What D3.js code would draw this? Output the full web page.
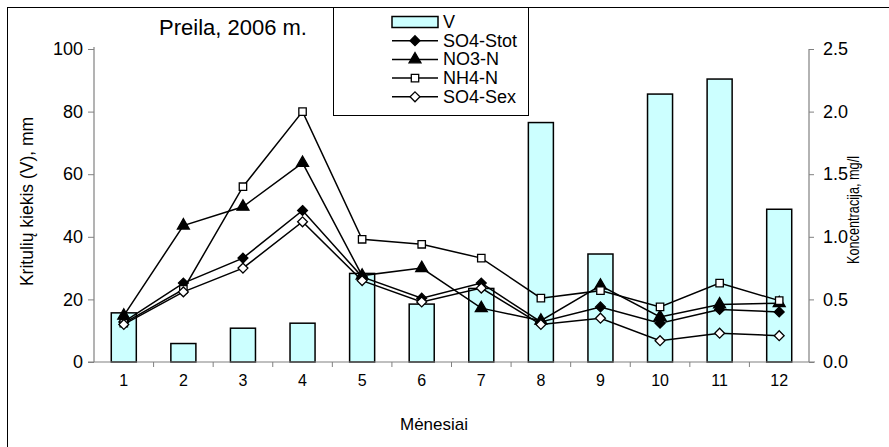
<!DOCTYPE html>
<html>
<head>
<meta charset="utf-8">
<script src="https://cdn.jsdelivr.net/npm/d3@7"></script>
<style>
  html, body { margin: 0; padding: 0; background: #fff; }
  svg { display: block; font-family: "Liberation Sans", Arial, sans-serif; }
</style>
</head>
<body>
<svg id="chart" width="889" height="447"></svg>
<script>
// Monthly precipitation (mm) and ion concentrations (mg/l), Preila 2006
const months = ["1", "2", "3", "4", "5", "6", "7", "8", "9", "10", "11", "12"];
const precipitation = [15.7, 5.9, 10.8, 12.4, 28.3, 18.5, 23.5, 76.5, 34.5, 85.6, 90.4, 48.8];
const so4Stot = [0.32, 0.63, 0.83, 1.21, 0.68, 0.51, 0.63, 0.32, 0.44, 0.31, 0.42, 0.40];
const no3N    = [0.37, 1.09, 1.24, 1.59, 0.69, 0.75, 0.43, 0.33, 0.61, 0.36, 0.46, 0.47];
const nh4N    = [0.31, 0.58, 1.40, 2.00, 0.98, 0.94, 0.83, 0.51, 0.57, 0.44, 0.63, 0.49];
const so4Sex  = [0.30, 0.56, 0.75, 1.12, 0.65, 0.48, 0.59, 0.30, 0.35, 0.17, 0.23, 0.21];
const leftTicks = [0, 20, 40, 60, 80, 100];
const rightTicks = [0, 0.5, 1.0, 1.5, 2.0, 2.5];

const series = [
  { name: "SO4-Stot", values: so4Stot, marker: "diamond", filled: true },
  { name: "NO3-N",    values: no3N,    marker: "triangle", filled: true },
  { name: "NH4-N",    values: nh4N,    marker: "square", filled: false },
  { name: "SO4-Sex",  values: so4Sex,  marker: "diamond", filled: false }
];

const svg = d3.select("#chart");
const plot = { left: 94, right: 809, top: 49, bottom: 362 };

// outer frame (only the top and left edges fall inside the canvas)
svg.append("rect").attr("x", 7.5).attr("y", 7.5).attr("width", 1000).attr("height", 1000)
  .attr("fill", "#fff").attr("stroke", "#000").attr("stroke-width", 1);

const x = d3.scaleBand().domain(months).range([plot.left, plot.right]).padding(0);
const yL = d3.scaleLinear().domain([0, 100]).range([plot.bottom, plot.top]);
const yR = d3.scaleLinear().domain([0, 2.5]).range([plot.bottom, plot.top]);
const cx = m => x(m) + x.bandwidth() / 2;
const barW = x.bandwidth() * 0.42;

// bars: precipitation amount
svg.append("g").selectAll("rect").data(months).join("rect")
  .attr("x", (m) => cx(m) - barW / 2)
  .attr("y", (m, i) => yL(precipitation[i]))
  .attr("width", barW)
  .attr("height", (m, i) => plot.bottom - yL(precipitation[i]))
  .attr("fill", "#ccffff").attr("stroke", "#000").attr("stroke-width", 1.5);

// axes
const axisColor = "#808080";
const gL = svg.append("g").attr("transform", `translate(${plot.left},0)`)
  .call(d3.axisLeft(yL).tickValues(leftTicks).tickSize(6).tickPadding(5).tickFormat(d3.format("d")));
const gR = svg.append("g").attr("transform", `translate(${plot.right},0)`)
  .call(d3.axisRight(yR).tickValues(rightTicks).tickSize(5).tickPadding(9).tickFormat(d3.format(".1f")));
const gX = svg.append("g").attr("transform", `translate(0,${plot.bottom})`)
  .call(d3.axisBottom(x).tickSize(0).tickPadding(13));
// category separators on the x axis
gX.selectAll("line.sep").data(months.slice(1)).join("line").attr("class", "sep")
  .attr("x1", m => x(m)).attr("x2", m => x(m)).attr("y1", 0).attr("y2", 5)
  .attr("stroke", axisColor);
[gL, gR, gX].forEach(g => {
  g.select(".domain").attr("stroke", axisColor).attr("stroke-width", 1.2);
  g.selectAll(".tick line").attr("stroke", axisColor);
  g.selectAll("text").attr("font-size", 18).attr("fill", "#000")
    .attr("font-family", "Liberation Sans, Arial, sans-serif");
});
gX.selectAll("text").attr("font-size", 16);
gL.select(".domain").attr("d", `M0,${plot.bottom}V${plot.top - 2}`);
gR.select(".domain").attr("d", `M0,${plot.bottom}V${plot.top}`);
gX.select(".domain").attr("d", `M${plot.left - 6},0H${plot.right + 6}`);

// marker symbols
function markerPath(type) {
  if (type === "diamond") return d3.symbol(d3.symbolDiamond2, 62)();
  if (type === "triangle") return d3.symbol(d3.symbolTriangle, 62)();
  return d3.symbol(d3.symbolSquare2, 70)();
}

const line = d3.line().x((d, i) => cx(months[i])).y(d => yR(d));
series.forEach(s => {
  svg.append("path").datum(s.values).attr("d", line)
    .attr("fill", "none").attr("stroke", "#000").attr("stroke-width", 1.5);
});
series.forEach(s => {
  svg.append("g").selectAll("path").data(s.values).join("path")
    .attr("d", markerPath(s.marker))
    .attr("transform", (d, i) => `translate(${cx(months[i])},${yR(d)})`)
    .attr("fill", s.filled ? "#000" : "#fff")
    .attr("stroke", "#000").attr("stroke-width", 1.3);
});

// title
svg.append("text").attr("x", 233).attr("y", 35).attr("text-anchor", "middle")
  .attr("font-size", 22).text("Preila, 2006 m.");

// axis titles
svg.append("text").attr("transform", `translate(33,${(plot.top + plot.bottom) / 2 - 4}) rotate(-90)`)
  .attr("text-anchor", "middle").attr("font-size", 17.5).text("Kritulių kiekis (V), mm");
svg.append("text").attr("transform", `translate(859,210) rotate(-90)`)
  .attr("text-anchor", "middle").attr("font-size", 16)
  .attr("textLength", 108).attr("lengthAdjust", "spacingAndGlyphs")
  .text("Koncentracija, mg/l");
svg.append("text").attr("x", 434).attr("y", 430)
  .attr("text-anchor", "middle").attr("font-size", 17).text("Mėnesiai");

// legend
const lg = svg.append("g");
lg.append("rect").attr("x", 333.5).attr("y", 7.5).attr("width", 195).attr("height", 108)
  .attr("fill", "#fff").attr("stroke", "#000").attr("stroke-width", 1);
const legendRows = [{ name: "V", bar: true }].concat(series);
legendRows.forEach((r, i) => {
  const ry = 22 + i * 18.7;
  if (r.bar) {
    lg.append("rect").attr("x", 392).attr("y", ry - 5.5).attr("width", 46).attr("height", 11)
      .attr("fill", "#ccffff").attr("stroke", "#000").attr("stroke-width", 1.5);
  } else {
    lg.append("line").attr("x1", 392).attr("x2", 438).attr("y1", ry).attr("y2", ry)
      .attr("stroke", "#000").attr("stroke-width", 1.5);
    lg.append("path").attr("d", markerPath(r.marker))
      .attr("transform", `translate(415,${ry})`)
      .attr("fill", r.filled ? "#000" : "#fff").attr("stroke", "#000").attr("stroke-width", 1.3);
  }
  lg.append("text").attr("x", 443).attr("y", ry + 6).attr("font-size", 18).text(r.name);
});
</script>
</body>
</html>
